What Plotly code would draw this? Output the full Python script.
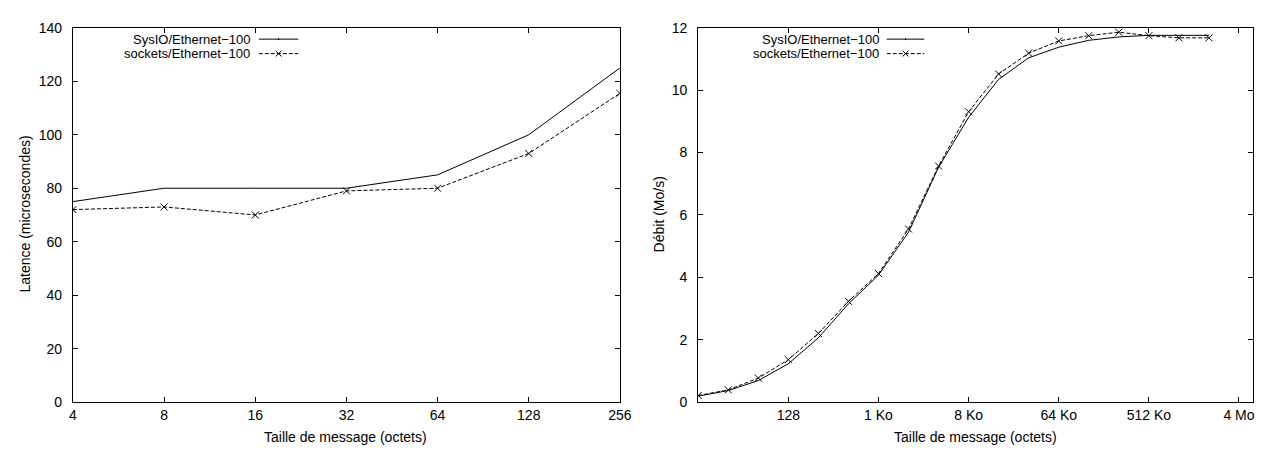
import math
import plotly.graph_objects as go

# ---------------- data ----------------
lat_sizes = [4, 8, 16, 32, 64, 128, 256]
lat_sysio = [75, 80, 80, 80, 85, 100, 125]
lat_sockets = [72, 73, 70, 79, 80, 93, 115.5]

bw_sizes = [16, 32, 64, 128, 256, 512, 1024, 2048, 4096, 8192, 16384, 32768,
            65536, 131072, 262144, 524288, 1048576, 2097152]
bw_sysio = [0.19, 0.37, 0.69, 1.23, 2.06, 3.15, 4.07, 5.45, 7.53, 9.13, 10.35,
            11.04, 11.38, 11.60, 11.71, 11.76, 11.76, 11.76]
bw_sockets = [0.21, 0.39, 0.77, 1.36, 2.20, 3.23, 4.12, 5.55, 7.57, 9.31, 10.52,
              11.19, 11.58, 11.75, 11.86, 11.75, 11.68, 11.68]

lat_ticks = [4, 8, 16, 32, 64, 128, 256]
lat_ticktext = ["4", "8", "16", "32", "64", "128", "256"]
bw_ticks = [128, 1024, 8192, 65536, 524288, 4194304]
bw_ticktext = ["128", "1 Ko", "8 Ko", "64 Ko", "512 Ko", "4 Mo"]

series_names = ["SysIO/Ethernet\u2212100", "sockets/Ethernet\u2212100"]

# ---------------- layout geometry ----------------
W, H = 1266, 450
FONT = "Liberation Sans, Arial, sans-serif"
FS = 14

def px(x):
    return x / W

def py(y):
    return 1 - y / H

plot_top, plot_bot = 12.3, 400.3
L1, R1 = 61.7, 615.7
L2, R2 = 695.0, 1256.7

fig = go.Figure()

solid = dict(color="black", width=1)
dashed = dict(color="black", width=1, dash="4px,2px")
xmark = dict(symbol="x-thin", size=7, color="black", line=dict(color="black", width=1))

fig.add_trace(go.Scatter(x=lat_sizes, y=lat_sysio, mode="lines", line=solid,
                         name=series_names[0], xaxis="x", yaxis="y", showlegend=False))
fig.add_trace(go.Scatter(x=lat_sizes, y=lat_sockets, mode="lines+markers", line=dashed,
                         marker=xmark, name=series_names[1], xaxis="x", yaxis="y",
                         showlegend=False))
fig.add_trace(go.Scatter(x=bw_sizes, y=bw_sysio, mode="lines", line=solid,
                         name=series_names[0], xaxis="x2", yaxis="y2", showlegend=False))
fig.add_trace(go.Scatter(x=bw_sizes, y=bw_sockets, mode="lines+markers", line=dashed,
                         marker=xmark, name=series_names[1], xaxis="x2", yaxis="y2",
                         showlegend=False))

axis_common = dict(showgrid=False, zeroline=False, showline=True, linecolor="black",
                   linewidth=1, mirror="ticks", ticks="inside", ticklen=5,
                   tickcolor="black", tickwidth=1,
                   tickfont=dict(family=FONT, size=FS, color="black"))

ydom = [py(plot_bot), py(plot_top)]

fig.update_layout(
    width=W, height=H,
    margin=dict(l=0, r=0, t=0, b=0),
    paper_bgcolor="white", plot_bgcolor="white",
    showlegend=False,
    font=dict(family=FONT, size=FS, color="black"),
    xaxis=dict(domain=[px(L1), px(R1)], type="log",
               range=[math.log10(4), math.log10(256)],
               tickmode="array", tickvals=lat_ticks, ticktext=lat_ticktext,
               anchor="y", ticklabelstandoff=0, **axis_common),
    yaxis=dict(domain=ydom, range=[0, 140], dtick=20, tick0=0, anchor="x",
               ticklabelstandoff=7, **axis_common),
    xaxis2=dict(domain=[px(L2), px(R2)], type="log",
                range=[math.log10(16), 22.46 * math.log10(2)],
                tickmode="array", tickvals=bw_ticks, ticktext=bw_ticktext,
                anchor="y2", ticklabelstandoff=0, **axis_common),
    yaxis2=dict(domain=ydom, range=[0, 12], dtick=2, tick0=0, anchor="x2",
                ticklabelstandoff=7, **axis_common),
)

ann = []
def text(x, y, s, xanchor="center", angle=0, size=FS):
    ann.append(dict(x=px(x), y=py(y), xref="paper", yref="paper", text=s,
                    showarrow=False, xanchor=xanchor, yanchor="middle",
                    textangle=angle, font=dict(family=FONT, size=size, color="black")))

# axis titles
text(13, 205, "Latence (microsecondes)", angle=-90)
text(338, 437, "Taille de message (octets)")
text(655, 206, "D\u00e9bit (Mo/s)", angle=-90)
text(976, 437, "Taille de message (octets)")

shapes = []
def legend(text_right, line_x0, line_x1, rows=(24, 39)):
    for i, (name, yy) in enumerate(zip(series_names, rows)):
        text(text_right, yy, name, xanchor="right", size=13)
        shp = dict(type="line", xref="paper", yref="paper",
                   x0=px(line_x0), x1=px(line_x1), y0=py(yy), y1=py(yy),
                   line=dict(color="black", width=1))
        cx = (line_x0 + line_x1) / 2
        if i == 1:
            shp["line"]["dash"] = "4px,2px"
            for dx in (-3, 3):
                shapes.append(dict(type="line", xref="paper", yref="paper",
                                   x0=px(cx - 3), x1=px(cx + 3),
                                   y0=py(yy - dx), y1=py(yy + dx),
                                   line=dict(color="black", width=1)))
        else:
            shapes.append(dict(type="line", xref="paper", yref="paper",
                               x0=px(cx), x1=px(cx), y0=py(yy - 1), y1=py(yy + 1),
                               line=dict(color="black", width=1)))
        shapes.append(shp)

legend(243, 250, 290)
legend(880, 886, 924)

fig.update_layout(annotations=ann, shapes=shapes)
fig.write_html("out.html")
